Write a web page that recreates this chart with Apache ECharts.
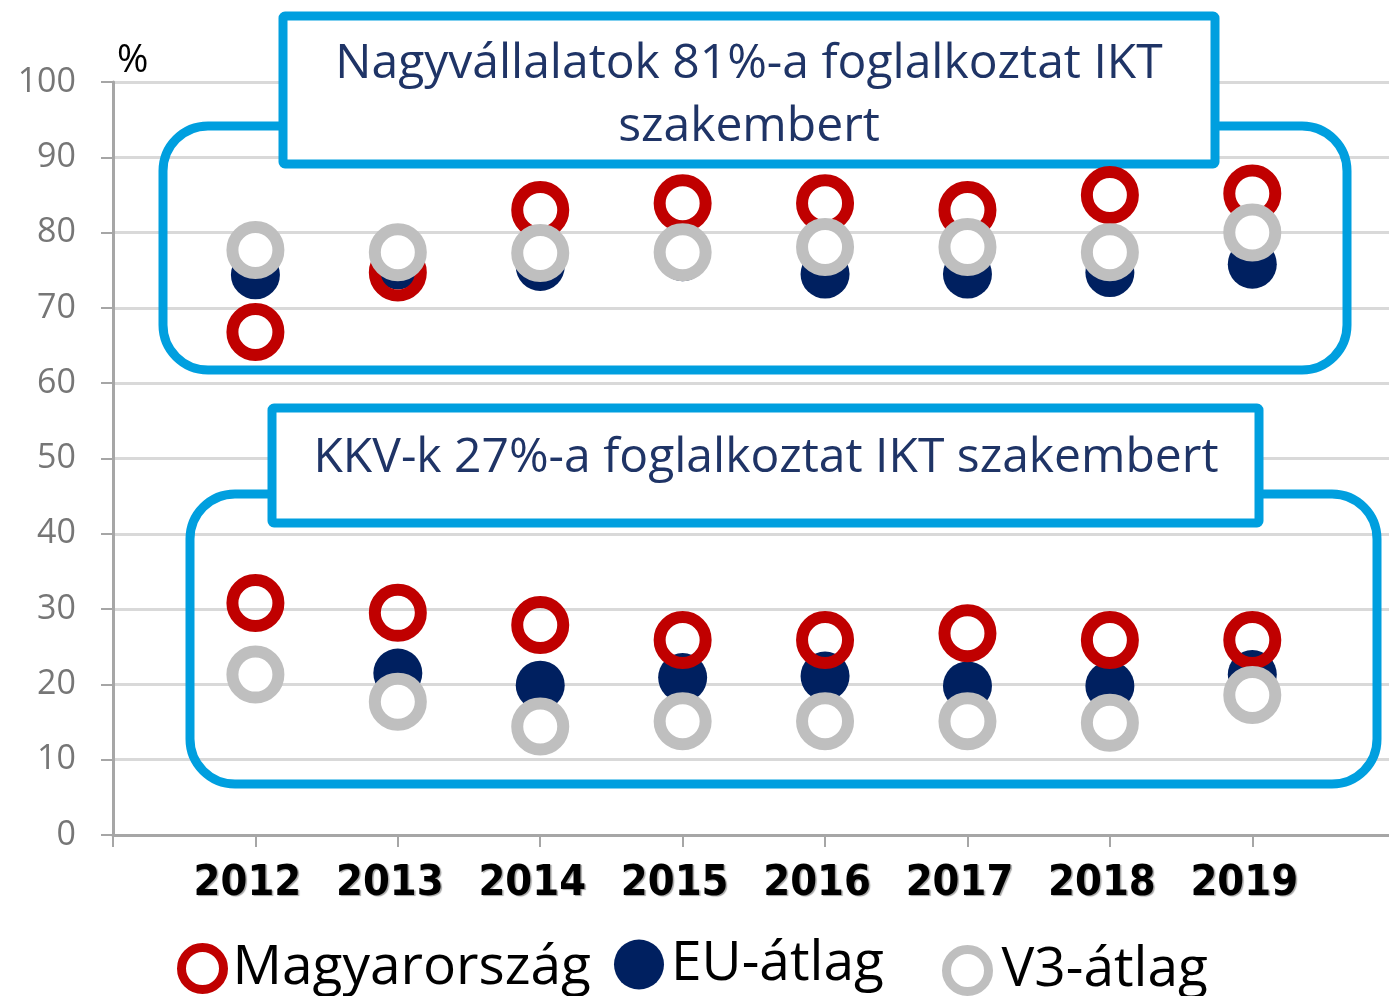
<!DOCTYPE html>
<html>
<head>
<meta charset="utf-8">
<title>IKT szakemberek</title>
<script src="https://cdn.jsdelivr.net/npm/echarts@6/dist/echarts.min.js"></script>
<style>
  html, body { margin: 0; padding: 0; background: #ffffff; }
  #chart { width: 1389px; height: 996px; }
</style>
</head>
<body>
<div id="chart"></div>
<script>
// Years on the horizontal axis
const years = [2012, 2013, 2014, 2015, 2016, 2017, 2018, 2019];

// Large enterprises employing ICT specialists (%)
const huLarge = [66.8, 74.7, 83.0, 83.9, 83.9, 83.0, 85.0, 85.2];
const euLarge = [74.4, 75.7, 75.5, 76.8, 74.5, 74.5, 74.7, 75.8];
const v3Large = [77.7, 77.4, 77.3, 77.4, 78.1, 78.1, 77.4, 80.0];

// SMEs employing ICT specialists (%)
const huSme = [30.8, 29.5, 27.9, 25.9, 25.9, 26.8, 25.9, 25.9];
const euSme = [21.0, 21.5, 19.9, 20.9, 21.1, 19.8, 19.8, 21.3];
const v3Sme = [21.3, 17.7, 14.4, 15.1, 15.1, 15.1, 14.9, 18.6];

// Series names and callout texts
const seriesNames = ['Magyarország', 'EU-átlag', 'V3-átlag'];
const largeNote = 'Nagyvállalatok 81%-a foglalkoztat IKT\nszakembert';
const smeNote = 'KKV-k 27%-a foglalkoztat IKT szakembert';

const RED = '#C00000', NAVY = '#002060', GREY = '#BFBFBF', CYAN = '#009FDF', NOTE = '#1F3466';
const uiFont = "'Open Sans', Lato, 'Noto Sans', sans-serif";

function pairs(a, b) {
  return years.map((y, i) => [y, a[i]]).concat(years.map((y, i) => [y, b[i]]));
}

const chart = echarts.init(document.getElementById('chart'), null, { renderer: 'canvas' });

const ringStyle = (c, fill) => ({ color: fill, borderColor: c, borderWidth: 12, opacity: 1 });
const legendText = pad => ({ fontFamily: uiFont, fontSize: 55, color: '#000000', padding: [0, 0, 0, pad] });

chart.setOption({
  animation: false,
  backgroundColor: '#ffffff',
  grid: { left: 113, top: 82, right: 0, height: 753, containLabel: false },
  xAxis: {
    // the year axis runs slightly past the right edge of the page
    type: 'value', min: 2011, max: 2019.96, interval: 1,
    axisLine: { show: true, lineStyle: { color: '#A6A6A6', width: 3 } },
    axisTick: { show: true, length: 12, lineStyle: { color: '#A6A6A6', width: 2 } },
    splitLine: { show: false },
    axisLabel: {
      margin: 27,
      color: '#000000',
      fontFamily: "'Liberation Sans Narrow', 'DejaVu Sans Condensed', 'Roboto Condensed', sans-serif",
      fontWeight: 'bold',
      fontSize: 43,
      padding: [0, 16, 0, 0],
      showMaxLabel: false,
      textShadowColor: 'rgba(0,0,0,0.35)', textShadowOffsetX: 1.5, textShadowOffsetY: 1, textShadowBlur: 1,
      formatter: v => (years.indexOf(v) >= 0 ? String(v) : '')
    }
  },
  yAxis: {
    type: 'value', min: 0, max: 100, interval: 10,
    axisLine: { show: true, lineStyle: { color: '#A6A6A6', width: 3 } },
    axisTick: { show: true, inside: false, length: 12, lineStyle: { color: '#A6A6A6', width: 2 } },
    splitLine: { show: true, lineStyle: { color: '#D9D9D9', width: 3 } },
    axisLabel: { margin: 37, color: '#767676', fontFamily: uiFont, fontSize: 34 }
  },
  legend: [
    { data: [{ name: seriesNames[0], icon: 'circle', itemStyle: { color: 'rgba(255,255,255,0)', borderColor: RED, borderWidth: 9 } }],
      left: 172, top: 936, itemWidth: 42, itemHeight: 42, selectedMode: false, textStyle: legendText(4) },
    { data: [{ name: seriesNames[1], icon: 'circle', itemStyle: { color: NAVY, borderWidth: 0 } }],
      left: 609, top: 932, itemWidth: 50, itemHeight: 50, selectedMode: false, textStyle: legendText(2) },
    { data: [{ name: seriesNames[2], icon: 'circle', itemStyle: { color: '#ffffff', borderColor: GREY, borderWidth: 9 } }],
      left: 937, top: 938, itemWidth: 42, itemHeight: 42, selectedMode: false, textStyle: legendText(8) }
  ],
  graphic: [
    // Large-enterprise callout frame
    { type: 'rect', z: 1, shape: { x: 163, y: 126, width: 1184, height: 244, r: 45 },
      style: { fill: 'none', stroke: CYAN, lineWidth: 9 } },
    { type: 'rect', z: 1, shape: { x: 283, y: 16, width: 932, height: 148, r: 2 },
      style: { fill: '#ffffff', stroke: CYAN, lineWidth: 9 } },
    { type: 'text', z: 1, x: 749, y: 96,
      style: { text: largeNote, fill: NOTE, font: "48px " + uiFont, align: 'center', verticalAlign: 'middle', lineHeight: 63 } },
    // SME callout frame
    { type: 'rect', z: 1, shape: { x: 190, y: 494, width: 1187, height: 290, r: 45 },
      style: { fill: 'none', stroke: CYAN, lineWidth: 9 } },
    { type: 'rect', z: 1, shape: { x: 272, y: 408, width: 987, height: 115, r: 2 },
      style: { fill: '#ffffff', stroke: CYAN, lineWidth: 9 } },
    { type: 'text', z: 1, x: 766, y: 458,
      style: { text: smeNote, fill: NOTE, font: "48px " + uiFont, align: 'center', verticalAlign: 'middle' } },
    // Unit label
    { type: 'text', z: 1, x: 117, y: 42,
      style: { text: '%', fill: '#000000', font: "38px " + uiFont } }
  ],
  series: [
    { name: seriesNames[1], type: 'scatter', z: 2, symbol: 'circle', symbolSize: 49,
      itemStyle: { color: NAVY, opacity: 1 }, data: pairs(euLarge, euSme) },
    { name: seriesNames[0], type: 'scatter', z: 3, symbol: 'circle', symbolSize: 46,
      itemStyle: ringStyle(RED, 'rgba(255,255,255,0)'), data: pairs(huLarge, huSme) },
    { name: seriesNames[2], type: 'scatter', z: 4, symbol: 'circle', symbolSize: 46,
      itemStyle: ringStyle(GREY, '#ffffff'), data: pairs(v3Large, v3Sme) }
  ]
});
</script>
</body>
</html>
